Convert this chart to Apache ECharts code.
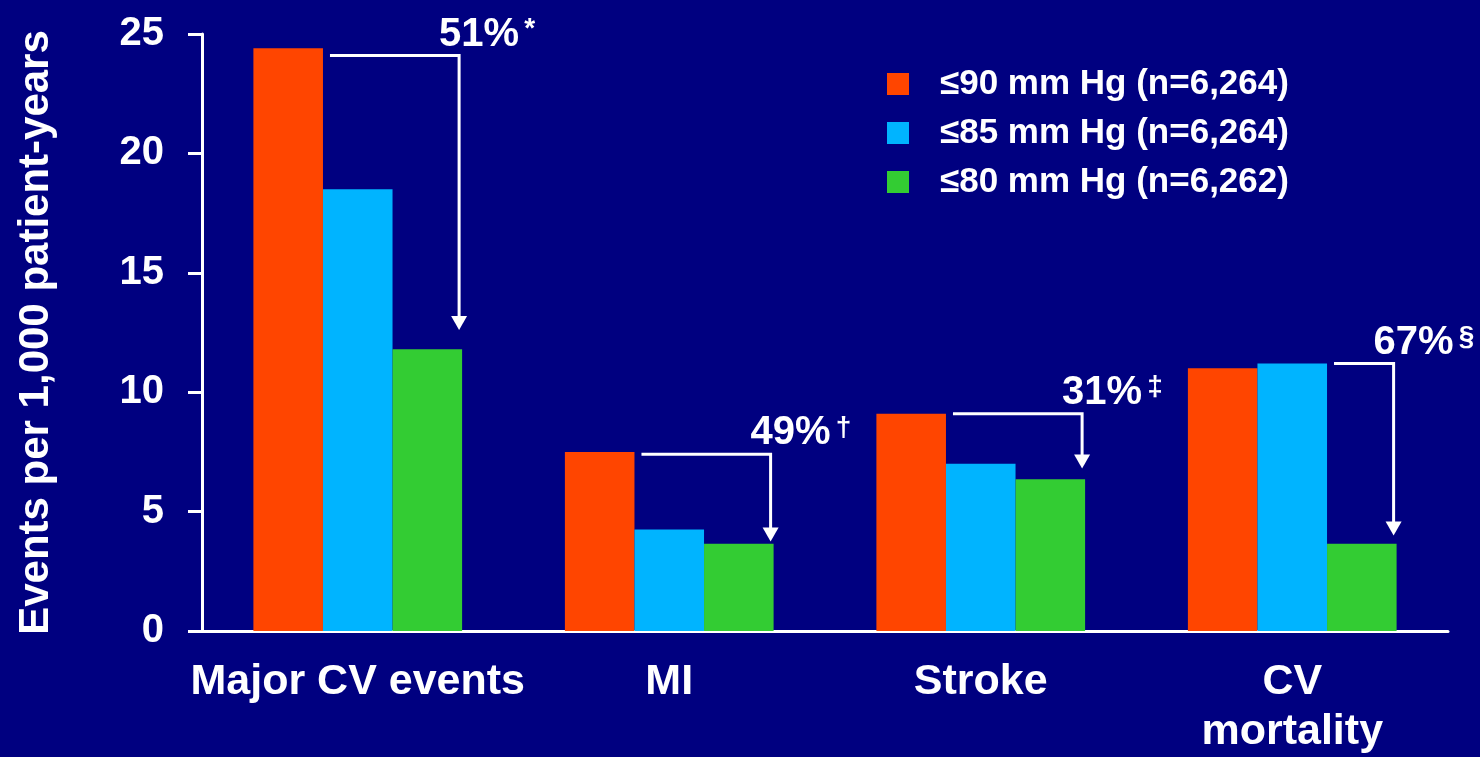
<!DOCTYPE html>
<html>
<head>
<meta charset="utf-8">
<script src="https://cdn.jsdelivr.net/npm/echarts@6/dist/echarts.min.js"></script>
<style>
  html, body { margin: 0; padding: 0; background: #000080; }
  #chart { width: 1480px; height: 757px; }
</style>
</head>
<body>
<div id="chart"></div>
<script>
// categories and values (events per 1,000 patient-years)
var categories = ['Major CV events', 'MI', 'Stroke', 'CV\nmortality'];
var seriesNames = ['\u226490 mm Hg (n=6,264)', '\u226485 mm Hg (n=6,264)', '\u226480 mm Hg (n=6,262)'];
var dbp90 = [24.4, 7.5, 9.1, 11.0];
var dbp85 = [18.5, 4.25, 7.0, 11.2];
var dbp80 = [11.8, 3.65, 6.35, 3.65];
var yTicks = [0, 5, 10, 15, 20, 25];

// risk reduction annotations
var reductionText = ['51%', '49%', '31%', '67%'];
var reductionMark = ['*', '\u2020', '\u2021', '\u00a7'];
var bracketFrom = [0, 0, 0, 1];          // series the bracket starts from
var bracketLevel = [24.1, 7.4, 9.1, 11.2];
var arrowTip = [12.6, 3.75, 6.8, 4.0];

var colors = ['#ff4500', '#00b4ff', '#33cc33'];
var FONT = '"Liberation Sans", Arial, sans-serif';
var CAT_GAP = 0.33;

var measureCtx = document.createElement('canvas').getContext('2d');
function textWidth(txt, font) {
    measureCtx.font = font;
    return measureCtx.measureText(txt).width;
}

function renderBracket(params, api) {
    var i = api.value(0);
    var lvl = api.value(1);
    var tip = api.value(2);
    var from = api.value(3);
    var c = api.coord([i, lvl]);
    var tipY = api.coord([i, tip])[1];
    var band = api.size([1, 0])[0];
    var groupW = band * (1 - CAT_GAP);
    var barW = groupW / 3;
    var left = c[0] - groupW / 2;
    var x0 = left + barW * (from + 1) + 7;
    var x1 = left + barW * 3 - 3;
    var y = c[1];
    var mainFont = 'bold 40px ' + FONT;
    var tx = x1 - 20;
    var w = textWidth(reductionText[i], mainFont);
    return {
        type: 'group',
        children: [
            {
                type: 'polyline',
                shape: { points: [[x0, y], [x1, y], [x1, tipY - 12]] },
                style: { stroke: '#fff', lineWidth: 3, fill: null }
            },
            {
                type: 'polygon',
                shape: { points: [[x1 - 8, tipY - 14], [x1 + 8, tipY - 14], [x1, tipY]] },
                style: { fill: '#fff' }
            },
            {
                type: 'text',
                style: {
                    text: reductionText[i], x: tx, y: y - 1,
                    align: 'left', verticalAlign: 'bottom',
                    font: mainFont, fill: '#fff'
                }
            },
            {
                type: 'text',
                style: {
                    text: reductionMark[i], x: tx + w + 5, y: y - 12,
                    align: 'left', verticalAlign: 'bottom',
                    font: 'bold 28px ' + FONT, fill: '#fff'
                }
            }
        ]
    };
}

var chart = echarts.init(document.getElementById('chart'));

var option = {
    backgroundColor: '#000080',
    color: colors,
    textStyle: { fontFamily: FONT },
    animation: false,
    grid: { left: 202, right: 32, top: 34, bottom: 126 },
    legend: {
        data: seriesNames,
        orient: 'vertical',
        left: 882,
        top: 61,
        icon: 'rect',
        itemWidth: 22,
        itemHeight: 22,
        itemGap: 13,
        textStyle: {
            color: '#fff', fontSize: 35, fontWeight: 'bold',
            lineHeight: 36, padding: [0, 0, 0, 26]
        }
    },
    xAxis: {
        type: 'category',
        data: categories,
        axisLine: { lineStyle: { color: '#fff', width: 3 } },
        axisTick: { show: false },
        axisLabel: {
            color: '#fff', fontSize: 43, fontWeight: 'bold',
            lineHeight: 50, margin: 26, interval: 0
        }
    },
    yAxis: {
        type: 'value',
        min: yTicks[0],
        max: yTicks[yTicks.length - 1],
        interval: yTicks[1] - yTicks[0],
        name: 'Events per 1,000 patient-years',
        nameLocation: 'middle',
        nameGap: 145,
        nameTextStyle: { color: '#fff', fontSize: 42, fontWeight: 'bold' },
        axisLine: { show: true, lineStyle: { color: '#fff', width: 3 } },
        axisTick: { show: true, length: 14, lineStyle: { color: '#fff', width: 3 } },
        axisLabel: { color: '#fff', fontSize: 40, fontWeight: 'bold', margin: 38 },
        splitLine: { show: false }
    },
    series: [
        {
            name: seriesNames[0], type: 'bar', data: dbp90,
            barGap: '0%', barCategoryGap: (CAT_GAP * 100) + '%'
        },
        {
            name: seriesNames[1], type: 'bar', data: dbp85,
            barGap: '0%', barCategoryGap: (CAT_GAP * 100) + '%'
        },
        {
            name: seriesNames[2], type: 'bar', data: dbp80,
            barGap: '0%', barCategoryGap: (CAT_GAP * 100) + '%'
        },
        {
            type: 'custom',
            renderItem: renderBracket,
            encode: { x: 0, y: 1 },
            clip: false,
            silent: true,
            z: 5,
            data: categories.map(function (c, i) {
                return [i, bracketLevel[i], arrowTip[i], bracketFrom[i]];
            })
        }
    ]
};

if (option && typeof option === 'object') {
    chart.setOption(option, true);
}
</script>
</body>
</html>
